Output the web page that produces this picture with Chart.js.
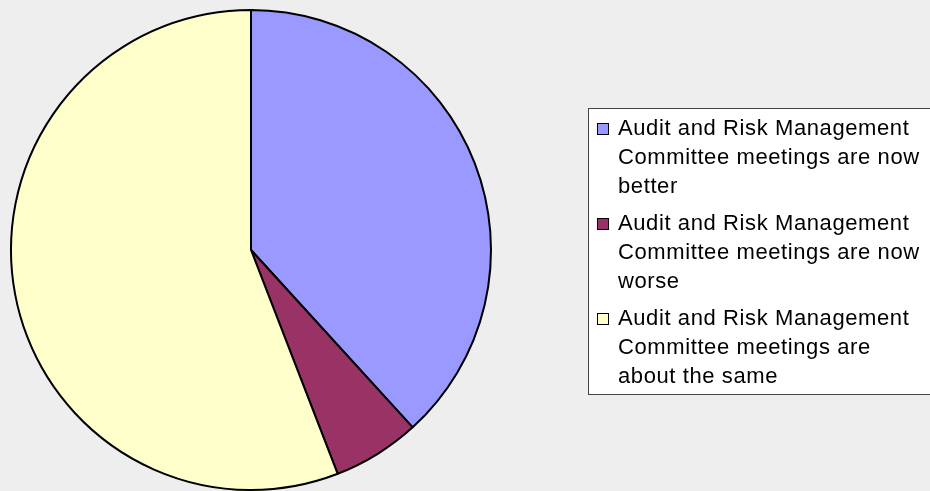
<!DOCTYPE html>
<html>
<head>
<meta charset="utf-8">
<script src="https://cdn.jsdelivr.net/npm/chart.js@4.4.1/dist/chart.umd.min.js"></script>
<style>
  html, body { margin: 0; padding: 0; background: #eeeeee; }
  #wrap { width: 930px; height: 491px; }
</style>
</head>
<body>
<div id="wrap"><canvas id="pie"></canvas></div>
<script>
// ===== DATOS =====
const labels = [
    ['Audit and Risk Management', 'Committee meetings are now', 'better'],
    ['Audit and Risk Management', 'Committee meetings are now', 'worse'],
    ['Audit and Risk Management', 'Committee meetings are', 'about the same']
];
const responses = [13, 2, 19];
const sliceColors = ['#9999ff', '#993366', '#ffffcc'];

// Leyenda dibujada a mano (etiquetas de varias líneas)
const boxLegendPlugin = {
    id: 'boxLegend',
    afterDraw(chart, args, opts) {
        const ctx = chart.ctx;
        const ds = chart.data.datasets[0];
        ctx.save();

        // Marco de la leyenda
        ctx.fillStyle = '#ffffff';
        ctx.fillRect(opts.x, opts.y, opts.width, opts.height);
        ctx.strokeStyle = '#444444';
        ctx.lineWidth = 1;
        ctx.strokeRect(opts.x + 0.5, opts.y + 0.5, opts.width, opts.height);

        ctx.font = `${opts.fontSize}px "Liberation Sans", Arial, sans-serif`;
        ctx.textBaseline = 'alphabetic';
        ctx.textAlign = 'left';
        if ('letterSpacing' in ctx) ctx.letterSpacing = opts.letterSpacing;

        let baseline = opts.y + opts.firstBaseline;
        chart.data.labels.forEach((lines, i) => {
            // Cuadrado de color
            ctx.fillStyle = ds.backgroundColor[i];
            ctx.fillRect(opts.x + 9.5, baseline - 11.5, 11, 11);
            ctx.strokeStyle = '#000000';
            ctx.strokeRect(opts.x + 9.5, baseline - 11.5, 11, 11);

            ctx.fillStyle = '#000000';
            lines.forEach((line, j) => {
                ctx.fillText(line, opts.x + 30, baseline + j * opts.lineHeight);
            });
            baseline += lines.length * opts.lineHeight + opts.itemGap;
        });
        ctx.restore();
    }
};

new Chart(document.getElementById('pie'), {
    type: 'pie',
    data: {
        labels: labels,
        datasets: [{
            data: responses,
            backgroundColor: sliceColors,
            borderColor: '#000000',
            borderWidth: 2
        }]
    },
    options: {
        responsive: true,
        maintainAspectRatio: false,
        animation: false,
        events: [],
        layout: { padding: { left: 10, top: 9, right: 438, bottom: 0 } },
        plugins: {
            legend: { display: false },
            tooltip: { enabled: false },
            boxLegend: {
                x: 588, y: 108, width: 360, height: 286,
                fontSize: 22, letterSpacing: '0.6px',
                firstBaseline: 27, lineHeight: 29, itemGap: 8
            }
        }
    },
    plugins: [boxLegendPlugin]
});
</script>
</body>
</html>
